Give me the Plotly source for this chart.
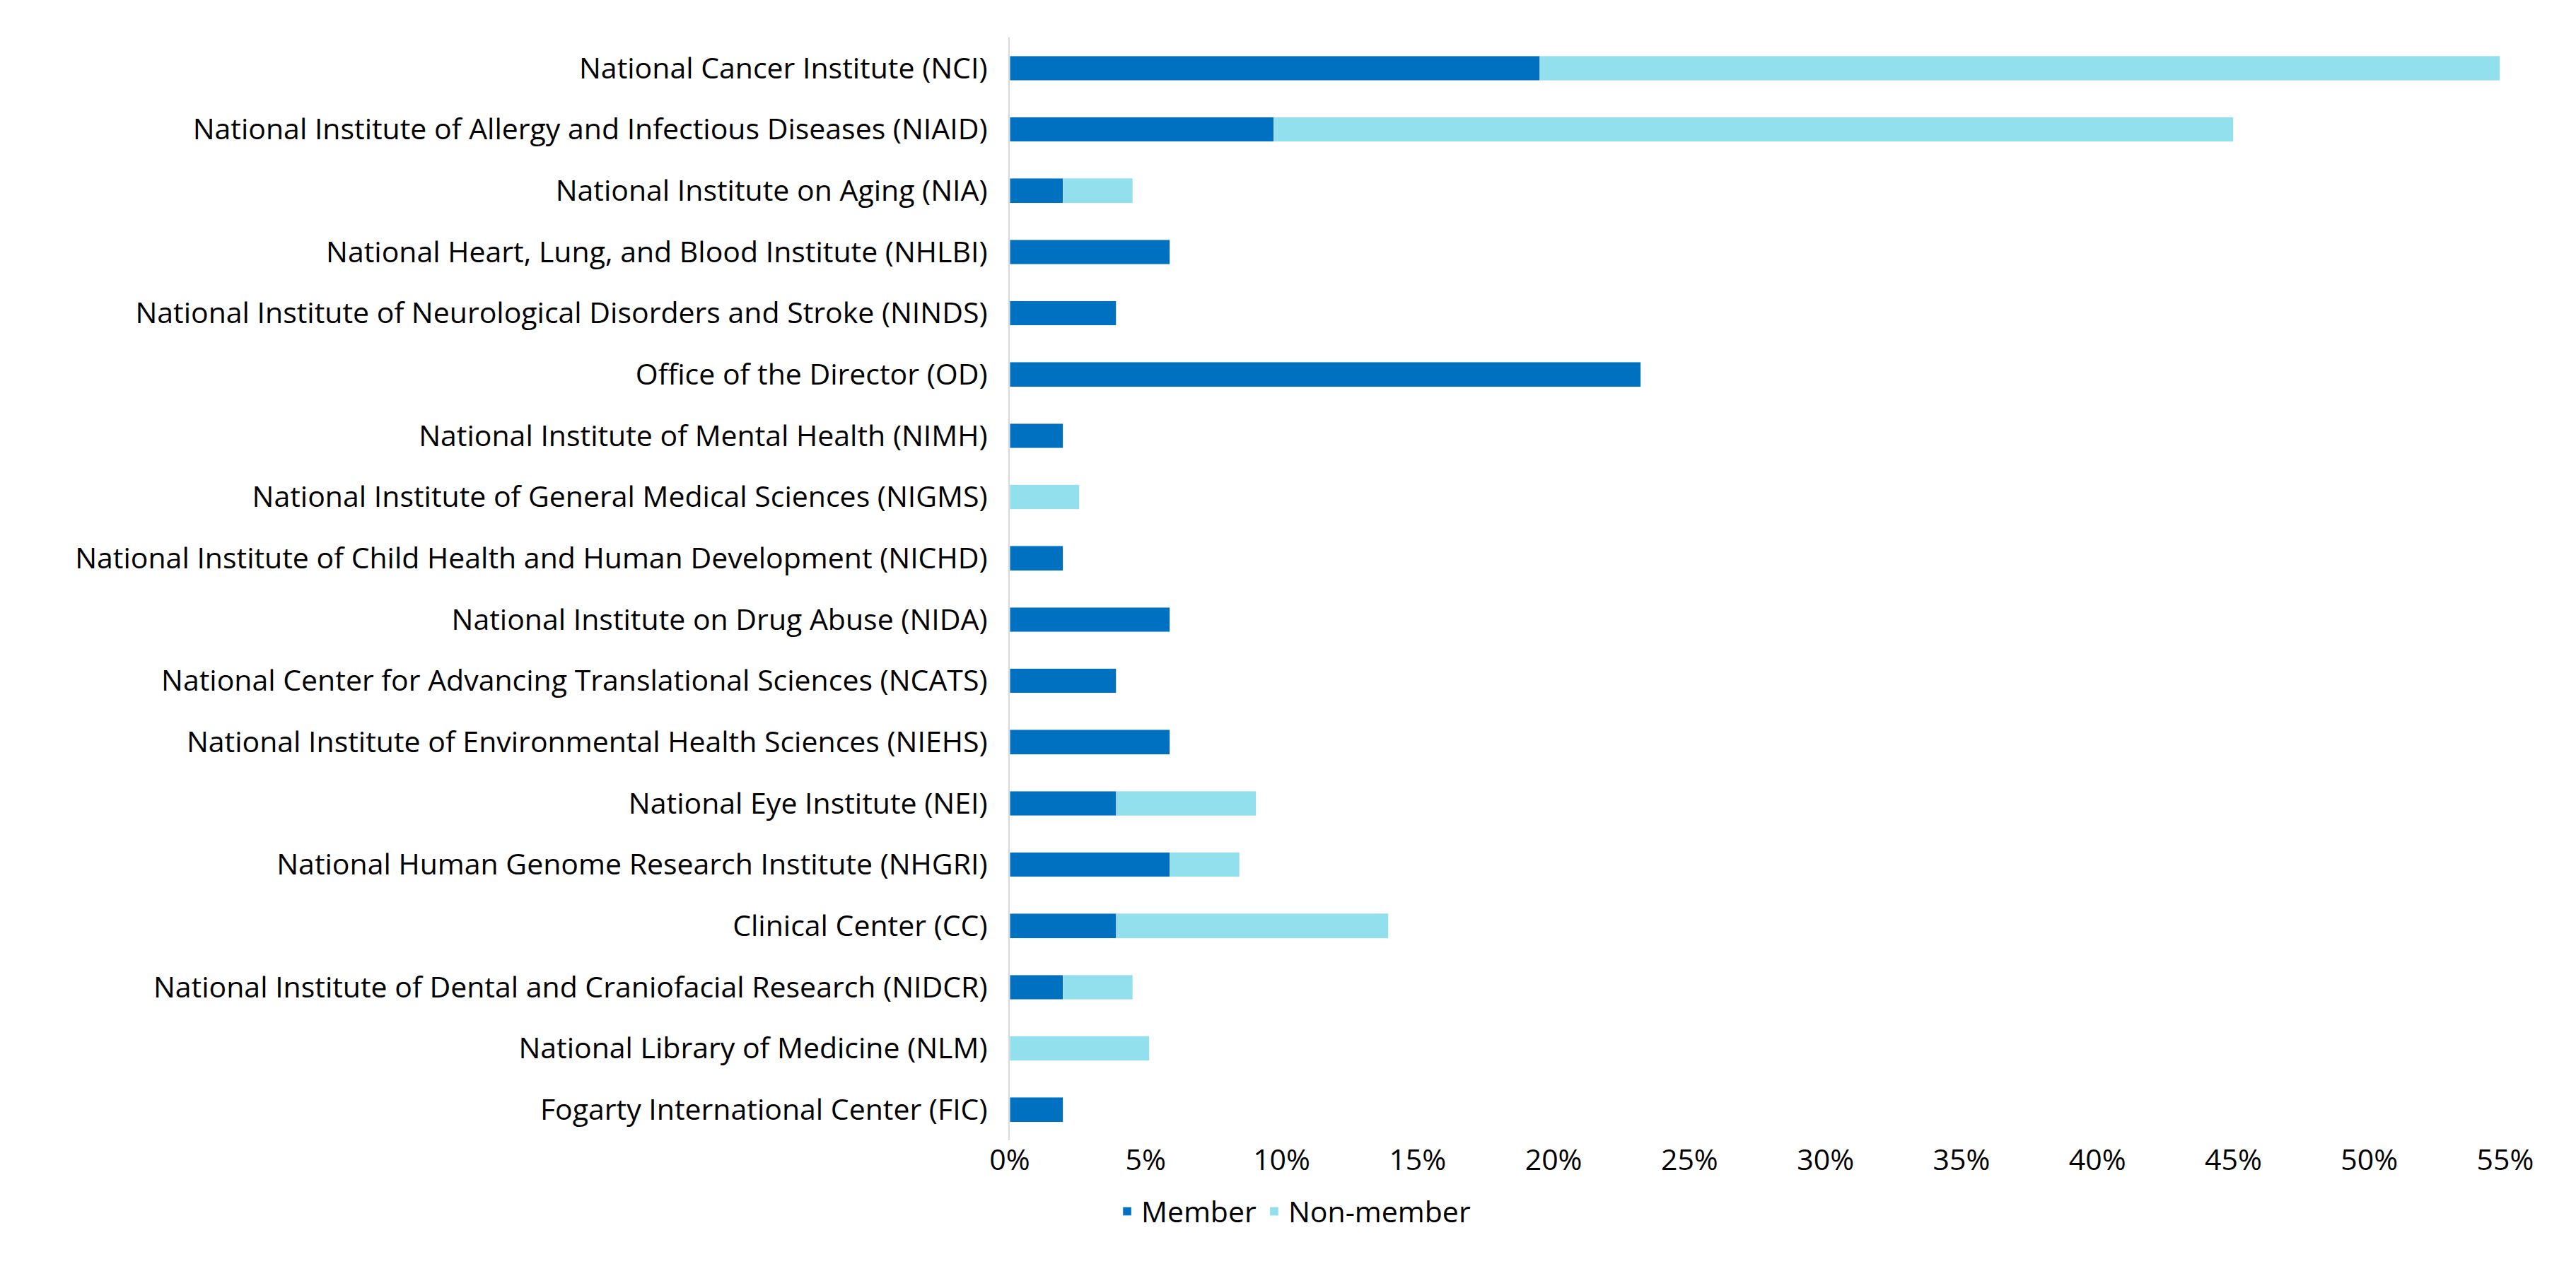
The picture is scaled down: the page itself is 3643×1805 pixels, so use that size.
import plotly.graph_objects as go

institutes = [
    "National Cancer Institute (NCI)",
    "National Institute of Allergy and Infectious Diseases (NIAID)",
    "National Institute on Aging (NIA)",
    "National Heart, Lung, and Blood Institute (NHLBI)",
    "National Institute of Neurological Disorders and Stroke (NINDS)",
    "Office of the Director (OD)",
    "National Institute of Mental Health (NIMH)",
    "National Institute of General Medical Sciences (NIGMS)",
    "National Institute of Child Health and Human Development (NICHD)",
    "National Institute on Drug Abuse (NIDA)",
    "National Center for Advancing Translational Sciences (NCATS)",
    "National Institute of Environmental Health Sciences (NIEHS)",
    "National Eye Institute (NEI)",
    "National Human Genome Research Institute (NHGRI)",
    "Clinical Center (CC)",
    "National Institute of Dental and Craniofacial Research (NIDCR)",
    "National Library of Medicine (NLM)",
    "Fogarty International Center (FIC)",
]
member = [19.5, 9.7, 1.96, 5.88, 3.92, 23.2, 1.96, 0, 1.96, 5.88, 3.92, 5.88,
          3.92, 5.88, 3.92, 1.96, 0, 1.96]
non_member = [35.3, 35.3, 2.56, 0, 0, 0, 0, 2.56, 0, 0, 0, 0,
              5.13, 2.56, 10.0, 2.56, 5.13, 0]
x_ticks = [0, 5, 10, 15, 20, 25, 30, 35, 40, 45, 50, 55]

fig = go.Figure()
fig.add_trace(go.Bar(y=institutes, x=member, name="Member", orientation="h",
                     marker_color="#0070C0", width=0.4))
fig.add_trace(go.Bar(y=institutes, x=non_member, name="Non-member", orientation="h",
                     marker_color="#92E0EE", width=0.4))

fig.update_layout(
    barmode="stack",
    width=3643, height=1805,
    margin=dict(l=1420, r=108, t=45, b=200),
    plot_bgcolor="white", paper_bgcolor="white",
    font=dict(family="Open Sans, Liberation Sans, sans-serif", size=41, color="#000000"),
    legend=dict(orientation="h", xref="container", x=0.5, xanchor="center",
                yref="container", y=0.055, yanchor="middle",
                font=dict(size=41), traceorder="normal"),
    xaxis=dict(range=[0, 55], tickvals=x_ticks,
               ticktext=[f"{t}%" for t in x_ticks],
               showgrid=False, zeroline=False, showline=False, ticks=""),
    yaxis=dict(autorange="reversed", showline=True, linecolor="#D9D9D9", linewidth=2,
               ticks="", ticksuffix="  ", showgrid=False),
)
fig.write_html("out.html")
